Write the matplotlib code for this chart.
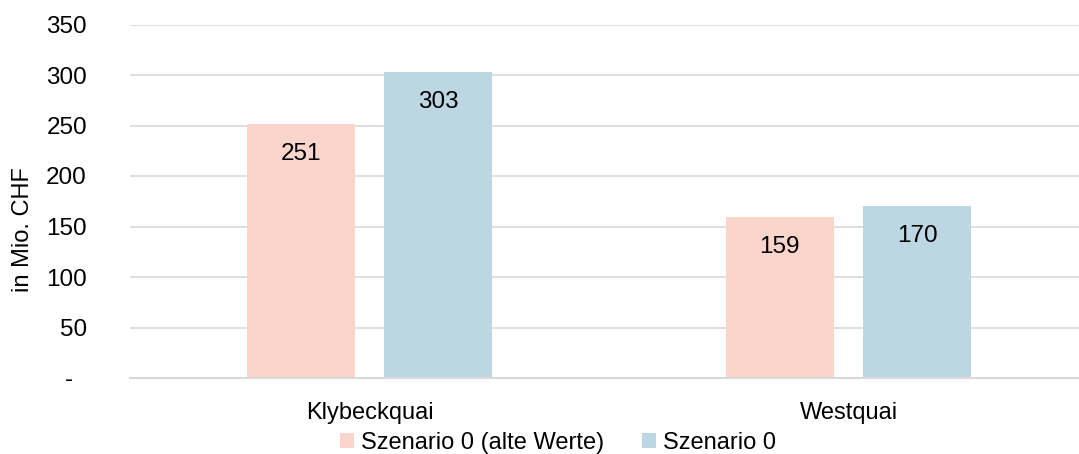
import numpy as np
import matplotlib
matplotlib.use("Agg")
import matplotlib.pyplot as plt

plt.rcParams['font.family'] = ['Liberation Sans', 'DejaVu Sans']

# Investitionskosten je Standort
standorte = ['Klybeckquai', 'Westquai']
szenario_alt = [251, 159]
szenario_0 = [303, 170]
serien = ['Szenario 0 (alte Werte)', 'Szenario 0']
y_ticks = [0, 50, 100, 150, 200, 250, 300, 350]
y_ticklabels = ['-  ', '50', '100', '150', '200', '250', '300', '350']

farben = ['#F9D5CC', '#BDD7E2']
gitter = '#D9D9D9'

fig = plt.figure(figsize=(10.79, 4.54), dpi=100)
# plot area runs past the right edge, like the original export
ax = fig.add_axes([130 / 1079, 76 / 454, 958 / 1079, 353.5 / 454])

x = np.arange(len(standorte))
breite = 0.2255
versatz = 0.144

for i, (werte, name) in enumerate(zip([szenario_alt, szenario_0], serien)):
    pos = x + (-versatz if i == 0 else versatz)
    bars = ax.bar(pos, werte, width=breite, color=farben[i], label=name, zorder=2)
    for b, v in zip(bars, werte):
        ax.annotate(f'{v}', xy=(b.get_x() + b.get_width() / 2, v),
                    xytext=(0, -21.5), textcoords='offset points',
                    ha='center', va='center', fontsize=17.5, color='black')

ax.set_xlim(-0.5, 1.5)
ax.set_ylim(0, 350)
ax.set_yticks(y_ticks)
ax.set_yticklabels(y_ticklabels)
ax.set_xticks(x)
ax.set_xticklabels(standorte)
ax.tick_params(axis='y', length=0, pad=31, labelsize=17.5)
ax.tick_params(axis='x', length=0, pad=17, labelsize=17)

ax.grid(axis='y', color=gitter, linewidth=1.2, zorder=0)
ax.set_axisbelow(True)
for s in ['top', 'right', 'left']:
    ax.spines[s].set_visible(False)
ax.spines['bottom'].set_color(gitter)
ax.spines['bottom'].set_linewidth(1.5)

fig.text(23 / 1079, 1 - 230 / 454, 'in Mio. CHF', rotation=90,
         ha='center', va='center', fontsize=17)

fig.legend(loc='center', bbox_to_anchor=(558 / 1079, 1 - 443 / 454),
           ncol=2, frameon=False, fontsize=17, handlelength=0.6,
           handleheight=0.6, handletextpad=0.3, columnspacing=1.6,
           borderaxespad=0, borderpad=0)

fig.savefig('out.png', dpi=100)
